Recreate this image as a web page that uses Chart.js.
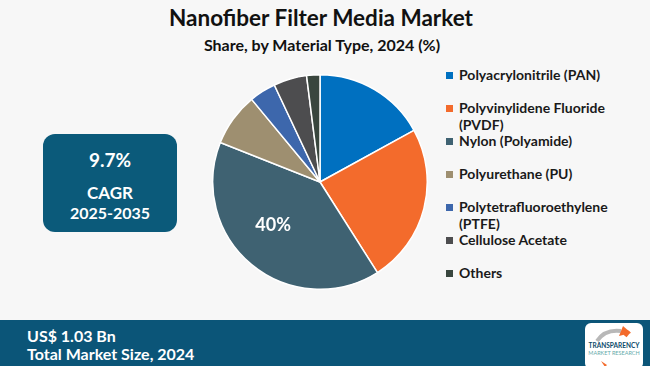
<!DOCTYPE html>
<html><head><meta charset="utf-8">
<script src="https://cdn.jsdelivr.net/npm/chart.js@4.4.1/dist/chart.umd.min.js"></script>
<style>
html,body{margin:0;padding:0;}
body{width:650px;height:366px;background:#f7f7f7;position:relative;overflow:hidden;font-family:Lato,"Open Sans",sans-serif;}
#title{position:absolute;left:0;width:642px;top:5px;text-align:center;font:bold 22.5px Lato,sans-serif;color:#111;line-height:26px;}
#sub{position:absolute;left:0;width:644px;top:35px;text-align:center;font:bold 16px Lato,sans-serif;color:#111;line-height:19px;}
#wrap{position:absolute;left:212px;top:74px;width:216px;height:216px;}
#legend{position:absolute;left:446px;top:66px;font:bold 14px Lato,sans-serif;color:#1a1a1a;}
.li{position:absolute;left:0;white-space:nowrap;}
.sw{position:absolute;left:0;top:6px;width:7px;height:7px;}
.lt{position:absolute;left:13px;line-height:14px;white-space:nowrap;}
#cagr{position:absolute;left:43px;top:134px;width:134px;height:98px;background:#0b5a7a;border-radius:12px;color:#fff;text-align:center;font-weight:bold;}
#foot{position:absolute;left:0;top:320px;width:650px;height:46px;background:#0b5578;}
#foot .t{position:absolute;left:27px;color:#fff;font:bold 16px Lato,sans-serif;line-height:15px;white-space:nowrap;}
#logo{position:absolute;left:585px;top:323px;width:58px;height:46px;background:#fff;border-radius:6px;}
</style></head>
<body>
<div id="title">Nanofiber Filter Media Market</div>
<div id="sub">Share, by Material Type, 2024 (%)</div>
<div id="wrap"><canvas id="c"></canvas></div>
<div id="legend"></div>
<div id="cagr">
 <div style="position:absolute;left:0;width:134px;top:14px;font-size:19px;">9.7%</div>
 <div style="position:absolute;left:0;width:134px;top:48px;font-size:17px;">CAGR</div>
 <div style="position:absolute;left:0;width:134px;top:69px;font-size:16px;">2025-2035</div>
</div>
<div id="foot">
 <div class="t" style="top:8px;">US$ 1.03 Bn</div>
 <div class="t" style="top:26px;">Total Market Size, 2024</div>
</div>
<div id="logo">
 <svg width="58" height="46" viewBox="0 0 58 46">
  <path d="M12 18 Q20 6 36 8" stroke="#b8b8b8" stroke-width="4" fill="none"/>
  <path d="M38 3 L46 10 L34 13 Z" fill="#f36b2c"/>
  <path d="M40 13 L44 8" stroke="#f36b2c" stroke-width="4"/>
  <text x="29" y="25" text-anchor="middle" font-family="Lato" font-weight="bold" font-size="6.5" fill="#0b4a6a">TRANSPARENCY</text>
  <text x="29" y="32" text-anchor="middle" font-family="Lato" font-size="5.5" fill="#6aa">MARKET RESEARCH</text>
  <path d="M22 42 L16 38 L20 44 Z" fill="#f36b2c"/>
 </svg>
</div>
<script>
const categories = ["Polyacrylonitrile (PAN)","Polyvinylidene Fluoride (PVDF)","Nylon (Polyamide)","Polyurethane (PU)","Polytetrafluoroethylene (PTFE)","Cellulose Acetate","Others"];
const legendLines = [["Polyacrylonitrile (PAN)"],["Polyvinylidene Fluoride","(PVDF)"],["Nylon (Polyamide)"],["Polyurethane (PU)"],["Polytetrafluoroethylene","(PTFE)"],["Cellulose Acetate"],["Others"]];
const shares = [17, 24, 40, 8, 4, 5, 2];
const colors = ["#0070c0","#f36b2c","#3f6272","#9e8f70","#3d67ac","#4d4d4f","#39463e"];

const lg = document.getElementById('legend');
legendLines.forEach((lines,i)=>{
  const d=document.createElement('div'); d.className='li'; d.style.top=(i*33)+'px';
  let h='<span class="sw" style="background:'+colors[i]+'"></span>';
  lines.forEach((t,j)=>{ h+='<span class="lt" style="top:'+(2+j*17)+'px">'+t+'</span>'; });
  d.innerHTML=h;
  lg.appendChild(d);
});

const labelPlugin = {
  id:'lbl',
  afterDatasetsDraw(chart){
    const ctx=chart.ctx; const meta=chart.getDatasetMeta(0);
    meta.data.forEach((arc,i)=>{
      if(shares[i]<30) return;
      const a=arc.startAngle+0.55*(arc.endAngle-arc.startAngle);
      const r=arc.outerRadius*0.6;
      const x=arc.x+Math.cos(a)*r, y=arc.y+Math.sin(a)*r;
      ctx.save(); ctx.fillStyle='#fff'; ctx.font='bold 18px Lato, sans-serif';
      ctx.textAlign='center'; ctx.textBaseline='middle';
      ctx.fillText(shares[i]+'%',x,y-1); ctx.restore();
    });
  }
};

new Chart(document.getElementById('c'),{
  type:'pie',
  data:{labels:categories,datasets:[{data:shares,backgroundColor:colors,borderColor:'#ffffff',borderWidth:1.5}]},
  options:{responsive:true,maintainAspectRatio:false,animation:false,
    layout:{padding:0},
    plugins:{legend:{display:false},tooltip:{enabled:false}}},
  plugins:[labelPlugin]
});
</script>
</body></html>
